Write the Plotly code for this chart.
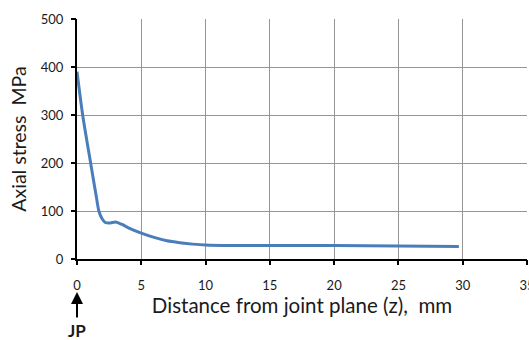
import plotly.graph_objects as go

distance_mm = [0, 0.44, 1.06, 1.5, 1.7, 1.95, 2.2, 2.6, 3.0, 3.5, 4.0, 5.0, 6.0, 7.0, 8.0, 9.0, 10.0, 12.0, 15.0, 20.0, 25.0, 29.7]
axial_stress = [390, 300, 200, 130, 100, 84, 76, 75, 77, 72, 65, 54, 45, 38, 34, 31, 29, 28, 28, 28, 27, 26]

x_ticks = [0, 5, 10, 15, 20, 25, 30, 35]
y_ticks = [0, 100, 200, 300, 400, 500]

FONT = "Lato, Open Sans, sans-serif"

fig = go.Figure()
fig.add_trace(go.Scatter(
    x=distance_mm, y=axial_stress, mode="lines",
    line=dict(color="#4A7EBB", width=3, shape="spline", smoothing=0.7),
    showlegend=False, hoverinfo="skip",
))

common_tick = dict(ticks="outside", tickwidth=2, tickcolor="rgba(0,0,0,0)", automargin=False,
                   zeroline=False, ticklabeloverflow="allow")

fig.update_layout(
    width=529, height=340, autosize=False,
    margin=dict(l=77, r=2, t=19, b=81),
    paper_bgcolor="white", plot_bgcolor="white",
    font=dict(family=FONT, color="#1a1a1a"),
    xaxis=dict(
        range=[0, 35], tickvals=x_ticks, ticklen=13, **common_tick,
        showline=True, linecolor="black", linewidth=2, showgrid=True, gridcolor="#959595", gridwidth=1,
        tickfont=dict(size=13, family=FONT),
        title=dict(text="Distance from joint plane (z),  mm", font=dict(size=20.5, family=FONT), standoff=2),
    ),
    yaxis=dict(
        range=[0, 500], tickvals=y_ticks, ticklen=9, **common_tick,
        showline=True, linecolor="black", linewidth=2, showgrid=True, gridcolor="#959595", gridwidth=1,
        tickfont=dict(size=13, family=FONT),
        title=dict(text="Axial stress  MPa", font=dict(size=19.5, family=FONT), standoff=9),
    ),
    # overlay axes that draw only the short visible tick marks
    xaxis2=dict(
        range=[0, 35], tickvals=x_ticks, overlaying="x", anchor="y", side="bottom",
        ticks="outside", ticklen=5, tickwidth=2, tickcolor="black", showticklabels=False,
        showgrid=False, showline=False, zeroline=False, automargin=False,
    ),
    yaxis2=dict(
        range=[0, 500], tickvals=y_ticks, overlaying="y", anchor="x", side="left",
        ticks="outside", ticklen=5, tickwidth=2, tickcolor="black", showticklabels=False,
        showgrid=False, showline=False, zeroline=False, automargin=False,
    ),
)

fig.add_trace(go.Scatter(x=[], y=[], xaxis="x2", yaxis="y2", showlegend=False, hoverinfo="skip"))

fig.add_annotation(
    x=0, y=0, xref="x", yref="paper", yshift=-33,
    ax=0, ay=27, axref="pixel", ayref="pixel",
    text="", showarrow=True, arrowhead=2, arrowsize=1.2, arrowwidth=2, arrowcolor="black",
)
fig.add_annotation(
    x=0, y=0, xref="x", yref="paper", yshift=-71, yanchor="middle", xanchor="center",
    text="<b>JP</b>", showarrow=False, font=dict(size=17, family=FONT, color="#1a1a1a"),
)

fig.write_html(
    "out.html",
    config={"responsive": False, "displayModeBar": False},
    post_script="document.body.style.margin='0px'; document.body.style.overflow='hidden';",
)
